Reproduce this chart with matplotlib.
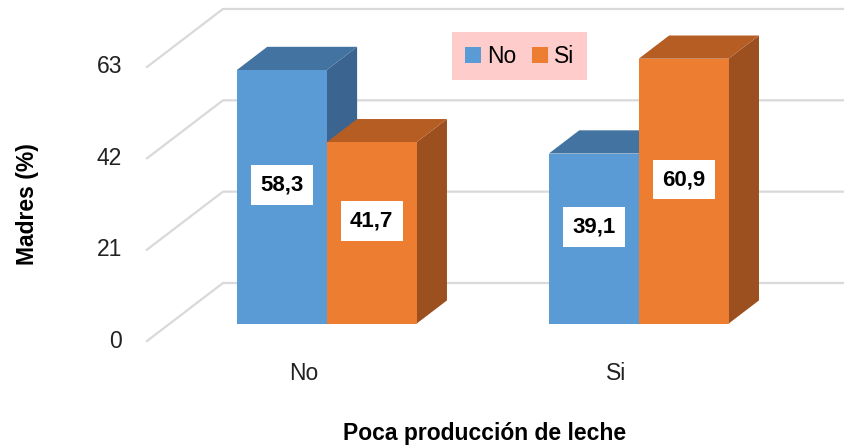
import matplotlib.pyplot as plt
from matplotlib.patches import Polygon

categories = ["No", "Si"]
series_names = ["No", "Si"]
values_no = [58.3, 39.1]
values_si = [41.7, 60.9]
yticks = [0, 21, 42, 63]

plt.rcParams['font.family'] = ['Liberation Sans', 'DejaVu Sans']

fig = plt.figure(figsize=(8.44, 4.45), dpi=100)
ax = fig.add_axes([0, 0, 1, 1])
ax.set_xlim(-0.974, 1.731)
ax.set_ylim(-23.9, 78.4)
ax.axis('off')

# pseudo-3D projection: depth d in [0, 1]
DX, DY = 0.2436, 13.34


def proj(x, y, d):
    return (x + d * DX, y + d * DY)


grid_c = '#d9d9d9'
x_wall = -0.503
for t in yticks:
    p0 = proj(x_wall, t, 0)
    p1 = proj(x_wall, t, 1)
    ax.plot([p0[0], p1[0], 1.8], [p0[1], p1[1], p1[1]], color=grid_c, lw=1.6, zorder=1)
    ax.text(x_wall - 0.08, t, str(t), ha='right', va='center', fontsize=16.5, color='#222222')

colors = {
    "No": ('#5b9bd5', '#4273a1', '#3b6590'),
    "Si": ('#ed7d31', '#b65d24', '#9c4f1f'),
}

bw = 0.288
d0, d1 = 0.3, 0.7


def bar3d(x0, h, front, top, side, z):
    x1 = x0 + bw
    f = [proj(x0, 0, d0), proj(x1, 0, d0), proj(x1, h, d0), proj(x0, h, d0)]
    s = [proj(x1, 0, d0), proj(x1, 0, d1), proj(x1, h, d1), proj(x1, h, d0)]
    tp = [proj(x0, h, d0), proj(x1, h, d0), proj(x1, h, d1), proj(x0, h, d1)]
    ax.add_patch(Polygon(s, closed=True, fc=side, ec='none', zorder=z))
    ax.add_patch(Polygon(tp, closed=True, fc=top, ec='none', zorder=z))
    ax.add_patch(Polygon(f, closed=True, fc=front, ec='none', zorder=z + 0.5))


for i, cat in enumerate(categories):
    for j, (name, vals) in enumerate(zip(series_names, [values_no, values_si])):
        x0 = i - bw + j * bw
        h = vals[i]
        fr, tp, sd = colors[name]
        bar3d(x0, h, fr, tp, sd, 2 + i * 2 + j)
        lx, ly = proj(x0 + bw / 2, h / 2 + DY * 0.2, d0)
        ax.text(lx, ly, f"{h:.1f}".replace('.', ','), ha='center', va='center',
                fontsize=16, fontweight='bold', color='black', zorder=20,
                bbox=dict(boxstyle='square,pad=0.42', fc='white', ec='none'))
    ax.text(i, -7.4, cat, ha='center', va='center', fontsize=16.5, color='#222222')

ax.text(0.58, -21.2, "Poca producción de leche", ha='center', va='center',
        fontsize=16.5, fontweight='bold', color='black')
ax.text(-0.886, 31.5, "Madres (%)", ha='center', va='center', rotation=90,
        fontsize=16.5, fontweight='bold', color='black')

handles = [Polygon([[0, 0]], fc=colors[n][0], ec='none') for n in series_names]
leg = ax.legend(handles, series_names, loc='upper left', bbox_to_anchor=(0.536, 0.928),
                borderaxespad=0, ncol=2, fontsize=16.5, frameon=True, fancybox=False,
                handlelength=0.7, handleheight=0.7, handletextpad=0.25,
                columnspacing=0.7, borderpad=0.55)
leg.get_frame().set_facecolor('#ffcccc')
leg.get_frame().set_edgecolor('none')
leg.get_frame().set_alpha(1)

fig.savefig('out.png', dpi=100)
